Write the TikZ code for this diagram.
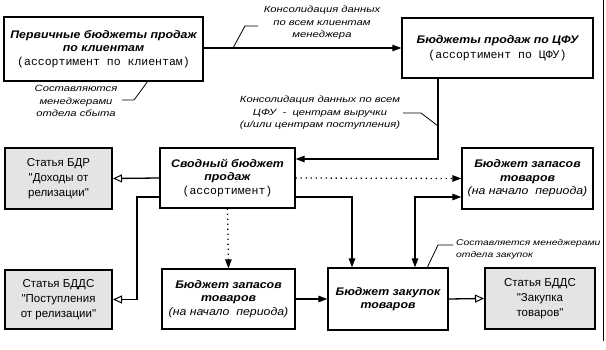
\documentclass[tikz,border=0pt]{standalone}
\usepackage{fontspec}
\setmainfont{Liberation Sans}
\newfontfamily\ttlfont[FakeStretch=1.12]{Liberation Sans}
\newfontfamily\notefont[FakeStretch=1.25]{Liberation Sans}
\newfontfamily\bmonofont{Liberation Mono}
\usetikzlibrary{arrows.meta,calc}
\definecolor{boxgray}{HTML}{E4E4E4}
\newcommand{\bxt}{\ttlfont\bfseries\itshape}
\newcommand{\itl}{\ttlfont\itshape}
\newcommand{\bmono}{\bmonofont\fontsize{11.5}{13.5}\selectfont}
\newcommand{\qd}{\textquotedbl}
\tikzset{
  wbox/.style={draw, line width=1.3pt, fill=white, inner sep=0pt, align=center,
    font=\fontsize{11}{13.5}\selectfont},
  gbox/.style={draw, line width=2pt, fill=boxgray, inner sep=0pt, align=center,
    font=\fontsize{11.5}{15}\selectfont},
  note/.style={inner sep=0pt, align=center, font=\notefont\itshape\fontsize{9}{12.5}\selectfont},
  conn/.style={line width=1.3pt},
  arr/.style={conn, -{Triangle[length=9pt,width=6.5pt]}},
  arrboth/.style={conn, {Triangle[length=9pt,width=6.5pt]}-{Triangle[length=9pt,width=6.5pt]}},
  oarr/.style={conn, -{Triangle[open,length=9pt,width=8pt,fill=white,line width=1pt]}},
  dotarr/.style={arr, dash pattern=on 1.3pt off 3.7pt},
  leader/.style={line width=0.8pt},
}
\begin{document}
\begin{tikzpicture}[x=1pt,y=-1pt]
\fill[white] (0,0) rectangle (606,350);
\useasboundingbox (0,0) rectangle (606,350);

% boxes
\node[wbox, minimum width=199pt, minimum height=64pt] (A) at (103.5,49)
  {{\bxt Первичные бюджеты продаж}\\{\bxt по клиентам}\\{\bmono (ассортимент по клиентам)}};
\node[wbox, minimum width=191pt, minimum height=60pt] (B) at (497.5,48)
  {{\bxt Бюджеты продаж по ЦФУ}\\[1.5pt]{\bmono (ассортимент по ЦФУ)}};
\node[wbox, minimum width=135pt, minimum height=60pt] (C) at (227.5,178)
  {{\bxt Сводный бюджет}\\{\bxt продаж}\\{\bmono (ассортимент)}};
\node[gbox, minimum width=107pt, minimum height=61pt] (R) at (58.5,178.5)
  {Статья БДР\\\qd Доходы от\\релизации\qd};
\node[wbox, minimum width=131pt, minimum height=61pt] (D) at (527.5,178.5)
  {{\bxt Бюджет запасов}\\{\bxt товаров}\\{\itl (на начало\ \ периода)}};
\node[gbox, minimum width=107pt, minimum height=59pt] (P) at (58.5,299.5)
  {Статья БДДС\\\qd Поступления\\от релизации\qd};
\node[wbox, minimum width=133pt, minimum height=60pt] (F) at (228.5,299)
  {{\bxt Бюджет запасов}\\{\bxt товаров}\\{\itl (на начало\ \ периода)}};
\node[wbox, minimum width=120pt, minimum height=62pt] (E) at (388,299)
  {{\bxt Бюджет закупок}\\{\bxt товаров}};
\node[gbox, minimum width=110pt, minimum height=60pt] (G) at (540,298.5)
  {Статья БДДС\\\qd Закупка\\товаров\qd};

% helper coordinates
\coordinate (kb) at (438,159);
\coordinate (k1) at (137,197);
\coordinate (k2) at (352,197);
\coordinate (k3) at (415,197);

% connectors
\draw[arr] (A.east |- B.west) -- (B.west);
\draw[arr] (B.south -| kb) -- (kb) -- (C.east |- kb);
\draw[oarr] (C.west) -- (R.east);
\draw[oarr] (C.west |- k1) -- (k1) |- (P.east);
\draw[dotarr] (C.east) -- (D.west);
\draw[arr] (C.east |- k2) -- (k2) -- (k2 |- E.north);
\draw[arrboth] (D.west |- k3) -- (k3) -- (k3 |- E.north);
\draw[dotarr] (C.south) -- (F.north);
\draw[arr] (F.east) -- (E.west);
\draw[oarr] (E.east) -- (G.west);

% notes
\node[note] (n1) at (322,23) {Консолидация данных\\по всем клиентам\\менеджера};
\node[note] (n2) at (76,101) {Составляются\\менеджерами\\отдела сбыта};
\node[note] (n3) at (320,113) {Консолидация данных по всем\\ЦФУ\ \ -\ \ центрам выручки\\(и/или центрам поступления)};
\node[note, align=left, anchor=west, font=\notefont\itshape\fontsize{8.3}{12}\selectfont] (n4) at (456,249) {Составляется менеджерами\\отдела закупок};

\coordinate (l1) at (233,48);
\draw[leader] (l1) -- (245,26) -- (258,26);
\coordinate (l2) at (148,81);
\draw[leader] (l2) -- (134,100) -- (122,100);
\coordinate (l3) at (438,126);
\draw[leader] (l3) -- (421,113) -- (403,113);
\coordinate (l4) at (427,268);
\draw[leader] (l4) -- (438,245) -- (453,245);

% right frame edge
\draw[line width=1pt] (603,0) -- (603,341);
\end{tikzpicture}
\end{document}
